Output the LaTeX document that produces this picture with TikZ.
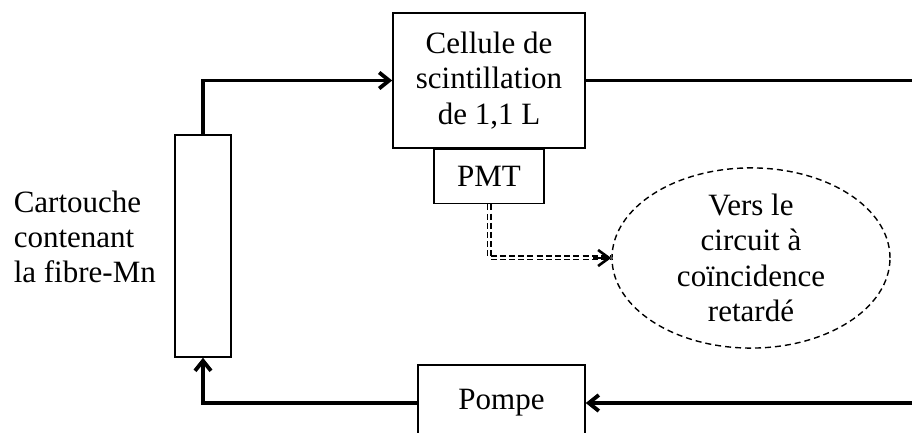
\documentclass[tikz,border=0pt]{standalone}
\usepackage{fontspec}
\setmainfont{Liberation Serif}
\usetikzlibrary{positioning,shapes.geometric,arrows.meta}

\begin{document}
\begin{tikzpicture}
    [x=0.5pt, y=0.5pt,
    font=\fontsize{15.5}{17.6}\selectfont,
    every node/.style={align=center, inner sep=0pt},
    box/.style={draw, line width=0.8pt},
    flow/.style={line width=1.9pt, -{Straight Barb[length=5pt,width=8pt]}},
    plain flow/.style={line width=1.9pt},
    signal/.style={draw=black, double, double distance=1.3pt, line width=0.6pt,
        dash pattern=on 3pt off 1.6pt},
    target/.style={ellipse, draw, line width=0.7pt,
        dash pattern=on 3pt off 2pt}
    ]
    \useasboundingbox (0,0) rectangle (912,433);

    \node (cart) [box, minimum width=28pt, minimum height=111pt] at (203,187) {};
    \node (cartlabel) [left=9pt of cart, yshift=4.5pt, align=left] {Cartouche\\contenant\\la fibre-Mn};

    \node (cell) [box, minimum width=96pt, minimum height=67.5pt] at (489,352.5)
        {Cellule de\\scintillation\\de 1,1 L};
    \node (pmt) [box, minimum width=55pt, minimum height=27pt, below=0pt of cell] {PMT};

    \node (pump) [box, minimum width=83.5pt, minimum height=38pt] at (501.5,30) {Pompe};

    \node (ell) [target, minimum width=139pt, minimum height=75pt] at (751,175)
        {Vers le\\circuit à\\coïncidence\\retardé};

    % free ends of the loop on the right
    \coordinate (outR) at (912,351);
    \coordinate (inR) at (912,30);
    \coordinate (tip) at ([xshift=-9pt]ell.west);

    \draw [flow] (cart.north) |- (cell.west);
    \draw [plain flow] (cell.east) -- (cell.east -| outR);
    \draw [flow] (inR |- pump.east) -- (pump.east);
    \draw [flow] (pump.west) -| (cart.south);

    \draw [signal] (pmt.south) |- (ell.west);
    \draw [line width=1.3pt, -{Straight Barb[length=5.5pt,width=8pt]}] (tip) -- (ell.west);
\end{tikzpicture}
\end{document}
